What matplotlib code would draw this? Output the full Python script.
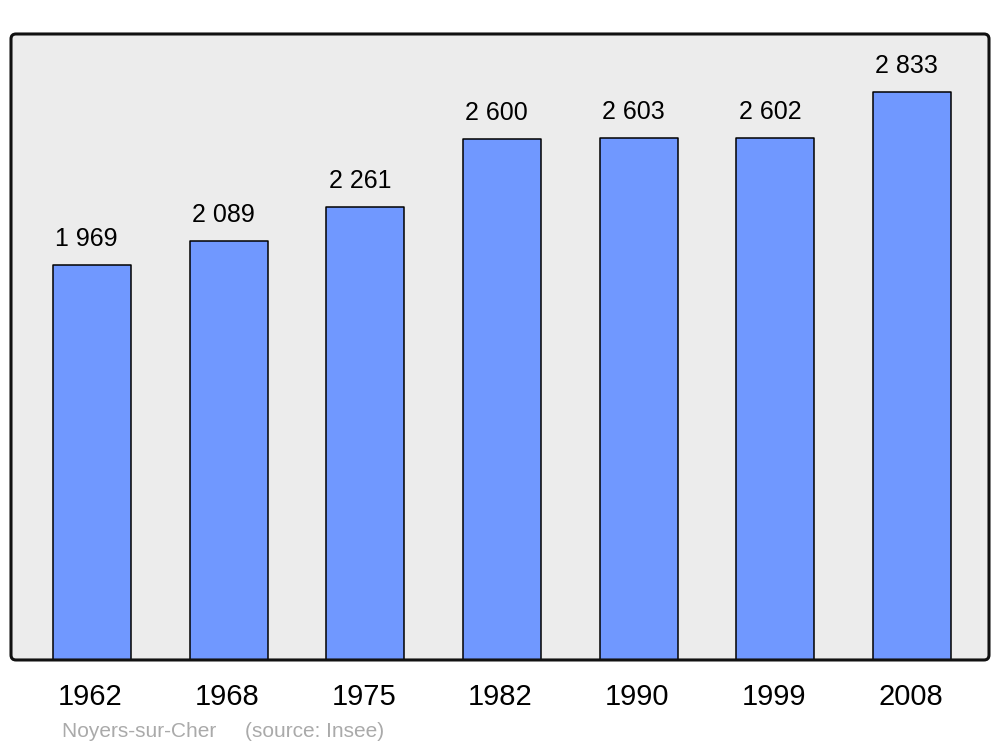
import matplotlib.pyplot as plt
from matplotlib.patches import FancyBboxPatch

plt.rcParams['font.family'] = ['Liberation Sans', 'DejaVu Sans']

years = ['1962', '1968', '1975', '1982', '1990', '1999', '2008']
population = [1969, 2089, 2261, 2600, 2603, 2602, 2833]
value_labels = ['1 969', '2 089', '2 261', '2 600', '2 603', '2 602', '2 833']
footer = 'Noyers-sur-Cher     (source: Insee)'

fig = plt.figure(figsize=(10, 7.47), dpi=100)
ax = fig.add_axes([0.011, 0.1165, 0.978, 0.838])
ax.set_facecolor('#ececec')

x = list(range(len(years)))
bars = ax.bar(x, population, width=0.571, color='#7098ff',
              edgecolor='black', linewidth=1.1, zorder=2)
for b in bars:
    b.set_joinstyle('round')

ax.set_xlim(-0.593, 6.563)
ax.set_ylim(0, 3122)
ax.set_xticks([])
ax.set_yticks([])
for s in ax.spines.values():
    s.set_visible(False)

# value labels above bars (sit a little left of centre in the original)
for xi, v, lab in zip(x, population, value_labels):
    ax.annotate(lab, (xi, v), xytext=(-4, 13.7), textcoords='offset points',
                ha='center', va='baseline', fontsize=18)

# year labels under the axis
for xi, yr in zip(x, years):
    ax.annotate(yr, (xi, 0), xycoords=('data', 'axes fraction'),
                xytext=(-1.2, -32.4), textcoords='offset points',
                ha='center', va='baseline', fontsize=21, annotation_clip=False)

# rounded frame around the plot area
frame = FancyBboxPatch((0.011, 0.1165), 0.978, 0.838,
                       boxstyle='round,pad=0,rounding_size=0.005',
                       mutation_aspect=1000 / 747,
                       transform=fig.transFigure, facecolor='none',
                       edgecolor='#111111', linewidth=2.2, zorder=5)
fig.patches.append(frame)

fig.text(0.062, 0.0134, footer, fontsize=15, color='#aaaaaa',
         ha='left', va='baseline')

fig.savefig('out.png', dpi=100)
